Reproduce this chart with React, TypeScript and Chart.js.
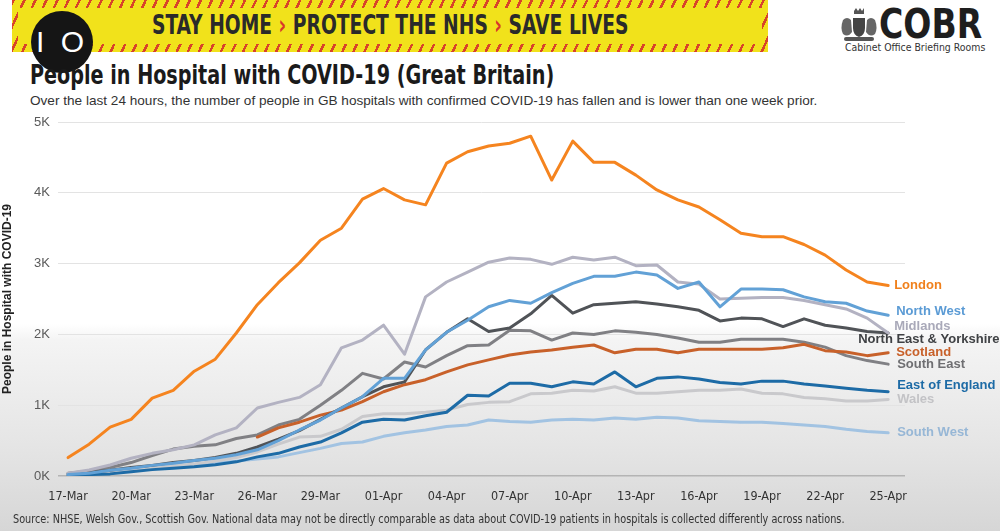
import React, { useEffect, useRef } from "react";
import { Chart, registerables } from "chart.js";

Chart.register(...registerables);

const dates = [
  "17-Mar", "18-Mar", "19-Mar", "20-Mar", "21-Mar", "22-Mar", "23-Mar", "24-Mar", "25-Mar", "26-Mar",
  "27-Mar", "28-Mar", "29-Mar", "30-Mar", "31-Mar", "01-Apr", "02-Apr", "03-Apr", "04-Apr", "05-Apr",
  "06-Apr", "07-Apr", "08-Apr", "09-Apr", "10-Apr", "11-Apr", "12-Apr", "13-Apr", "14-Apr", "15-Apr",
  "16-Apr", "17-Apr", "18-Apr", "19-Apr", "20-Apr", "21-Apr", "22-Apr", "23-Apr", "24-Apr", "25-Apr",
];

const tickDays = [0, 3, 6, 9, 12, 15, 18, 21, 24, 27, 30, 33, 36, 39];

const london = [260, 450, 690, 800, 1100, 1210, 1480, 1650, 2020, 2420, 2730, 3010, 3330, 3500, 3910, 4060, 3900, 3830, 4420, 4580, 4660, 4700, 4800, 4180, 4730, 4430, 4430, 4250, 4040, 3900, 3800, 3620, 3430, 3380, 3380, 3270, 3120, 2910, 2740, 2690];
const northWest = [20, 40, 80, 110, 150, 180, 220, 250, 300, 370, 500, 650, 790, 960, 1120, 1380, 1380, 1780, 2030, 2200, 2390, 2480, 2440, 2590, 2720, 2820, 2820, 2880, 2840, 2650, 2740, 2390, 2640, 2640, 2630, 2530, 2460, 2440, 2330, 2270];
const midlands = [40, 85, 155, 250, 320, 370, 440, 580, 680, 960, 1040, 1110, 1290, 1810, 1920, 2130, 1720, 2530, 2740, 2880, 3020, 3080, 3060, 2990, 3090, 3050, 3090, 2970, 2980, 2740, 2710, 2500, 2510, 2520, 2520, 2480, 2420, 2360, 2230, 2020];
const northEastYorkshire = [30, 50, 80, 120, 150, 190, 220, 260, 320, 410, 520, 640, 800, 960, 1120, 1260, 1330, 1780, 2030, 2220, 2040, 2090, 2290, 2550, 2300, 2420, 2440, 2460, 2430, 2390, 2340, 2190, 2230, 2220, 2110, 2220, 2130, 2090, 2040, 2020];
const scotland = [null, null, null, null, null, null, null, null, null, 550, 680, 760, 860, 930, 1050, 1190, 1290, 1360, 1470, 1570, 1640, 1710, 1750, 1780, 1820, 1850, 1740, 1790, 1790, 1740, 1790, 1790, 1790, 1790, 1810, 1860, 1770, 1750, 1700, 1740];
const southEast = [40, 70, 120, 190, 290, 380, 420, 440, 530, 580, 720, 800, 1000, 1210, 1450, 1370, 1610, 1540, 1700, 1840, 1850, 2060, 2050, 1920, 2020, 2000, 2050, 2030, 2000, 1950, 1890, 1890, 1930, 1930, 1930, 1890, 1820, 1700, 1630, 1580];
const eastOfEngland = [10, 20, 30, 60, 90, 110, 130, 160, 200, 270, 320, 410, 480, 610, 760, 800, 790, 850, 900, 1140, 1130, 1310, 1310, 1260, 1330, 1300, 1470, 1260, 1380, 1400, 1370, 1320, 1300, 1340, 1340, 1300, 1270, 1240, 1210, 1190];
const wales = [20, 40, 60, 80, 110, 140, 170, 210, 260, 340, 450, 550, 560, 660, 840, 880, 880, 900, 930, 1010, 1040, 1050, 1160, 1170, 1210, 1200, 1260, 1170, 1170, 1190, 1210, 1210, 1230, 1170, 1160, 1110, 1090, 1060, 1060, 1080];
const southWest = [30, 50, 70, 90, 110, 140, 160, 180, 210, 240, 270, 330, 390, 460, 480, 560, 610, 650, 700, 720, 790, 770, 760, 790, 800, 790, 820, 800, 830, 820, 780, 770, 760, 760, 740, 720, 700, 660, 630, 610];

const seriesNames = ["London", "North West", "Midlands", "North East & Yorkshire", "Scotland", "South East", "East of England", "Wales", "South West"];
const seriesValues = [london, northWest, midlands, northEastYorkshire, scotland, southEast, eastOfEngland, wales, southWest];
const lineColors = ["#f5841f", "#62a1d6", "#b3b2c2", "#505357", "#c8612a", "#808084", "#1d6ba6", "#c9c9cc", "#a2c3e2"];
const labelColors = ["#f0801c", "#5b9bd5", "#a9a9b9", "#3f4144", "#c8612a", "#6f6f72", "#1d6ba6", "#c3c3c6", "#97b7d6"];
const labelDx = [6, 8, 6, -30, 8, 9, 9, 9, 9];
const labelDy = [0, -4, -7, 6, 0, 0, -6, 0, 0];

const endLabels = {
  id: "endLabels",
  afterDatasetsDraw(chart: any) {
    const ctx = chart.ctx;
    chart.data.datasets.forEach((ds: any, i: number) => {
      const meta = chart.getDatasetMeta(i);
      const pt = meta.data[meta.data.length - 1];
      if (!pt) return;
      ctx.save();
      ctx.font = 'bold 13px "Liberation Sans", Arial, sans-serif';
      ctx.fillStyle = labelColors[i];
      ctx.textBaseline = "middle";
      ctx.textAlign = "left";
      ctx.fillText(seriesNames[i], pt.x + labelDx[i], pt.y + labelDy[i]);
      ctx.restore();
    });
  },
};

const narrow = '"DejaVu Sans Condensed", "Liberation Sans", Arial, sans-serif';
const sans = '"Liberation Sans", Arial, sans-serif';

function Crest() {
  return (
    <svg width="38" height="34" viewBox="0 0 38 34" style={{ position: "absolute", left: 840, top: 8 }}>
      <path d="M14 3 l2 -3 l2 3 l2 -3 l2 3 l2 -3 v6 h-10 z" fill="#555" />
      <path d="M13 10 h12 v10 q0 7 -6 9 q-6 -2 -6 -9 z" fill="#444" />
      <path d="M3 12 q4 -4 8 0 l1 12 q-4 6 -9 2 q-3 -6 0 -14 z" fill="#666" />
      <path d="M35 12 q-4 -4 -8 0 l-1 12 q4 6 9 2 q3 -6 0 -14 z" fill="#666" />
      <rect x="4" y="29" width="30" height="4" rx="2" fill="#555" />
    </svg>
  );
}

export default function App() {
  const canvasRef = useRef<HTMLCanvasElement | null>(null);

  useEffect(() => {
    document.body.style.margin = "0";
    const canvas = canvasRef.current;
    if (!canvas) return;
    const chart = new Chart(canvas, {
      type: "line",
      data: {
        datasets: seriesNames.map((name, i) => ({
          label: name,
          data: seriesValues[i].map((v, j) => ({ x: j, y: v })),
          borderColor: lineColors[i],
          backgroundColor: lineColors[i],
          borderWidth: 3,
          pointRadius: 0,
          tension: 0,
          spanGaps: false,
          borderJoinStyle: "round" as const,
          borderCapStyle: "round" as const,
        })),
      },
      options: {
        animation: false,
        responsive: false,
        maintainAspectRatio: false,
        layout: { padding: { left: 0, right: 95, top: 122, bottom: 0 } },
        plugins: { legend: { display: false }, tooltip: { enabled: false } },
        scales: {
          x: {
            type: "linear",
            min: -0.48,
            max: 39.8,
            grid: { display: false },
            border: { display: false },
            afterBuildTicks: (s: any) => {
              s.ticks = tickDays.map((v) => ({ value: v }));
            },
            afterFit: (s: any) => {
              s.height = 55;
            },
            ticks: {
              callback: (v: any) => dates[v as number] ?? "",
              maxRotation: 0,
              autoSkip: false,
              padding: 5,
              font: { family: narrow, size: 12.5 },
              color: "#333",
            },
          },
          y: {
            min: 0,
            max: 5000,
            afterFit: (s: any) => {
              s.width = 58;
            },
            ticks: {
              stepSize: 1000,
              callback: (v: any) => `${(v as number) / 1000}K`,
              padding: 8,
              font: { family: sans, size: 13 },
              color: "#5a5a5a",
            },
            grid: {
              color: (c: any) => (c.tick && c.tick.value === 0 ? "#b4b4b4" : "#e3e3e3"),
              drawTicks: false,
              lineWidth: (c: any) => (c.tick && c.tick.value === 0 ? 1.5 : 1),
            },
            border: { display: false },
            title: {
              display: true,
              text: "People in Hospital with COVID-19",
              font: { family: sans, size: 12, weight: "bold" },
              color: "#222",
              padding: { top: 0, bottom: 0 },
            },
          },
        },
      },
      plugins: [endLabels],
    });
    return () => chart.destroy();
  }, []);

  return (
    <div
      style={{
        position: "fixed",
        left: 0,
        top: 0,
        width: 1000,
        height: 531,
        overflow: "hidden",
        background: "linear-gradient(to bottom, #ffffff 0%, #ffffff 61%, #f4f4f4 64%, #e4e4e4 85%, #d6d6d6 100%)",
        fontFamily: sans,
      }}
    >
      {/* banner */}
      <div
        style={{
          position: "absolute",
          left: 12,
          top: 0,
          width: 756,
          height: 52,
          background: "repeating-linear-gradient(115deg, #d8432a 0px, #d8432a 2.5px, #f1e21b 2.5px, #f1e21b 10px)",
        }}
      >
        <div style={{ position: "absolute", left: 6, right: 6, top: 8, bottom: 8, background: "#f1e21b" }} />
        <div
          style={{
            position: "absolute",
            left: 140,
            top: 10,
            fontFamily: narrow,
            fontWeight: "bold",
            fontSize: 27,
            lineHeight: "30px",
            color: "#2a2a2a",
            whiteSpace: "nowrap",
            transform: "scaleX(0.77)",
            transformOrigin: "left center",
          }}
        >
          STAY HOME <span style={{ color: "#d9362a" }}>›</span> PROTECT THE NHS <span style={{ color: "#d9362a" }}>›</span> SAVE LIVES
        </div>
      </div>
      {/* number 10 circle */}
      <div
        style={{
          position: "absolute",
          left: 31,
          top: 11,
          width: 62,
          height: 62,
          borderRadius: "50%",
          background: "#151515",
          color: "#fff",
          fontSize: 30,
          lineHeight: "62px",
          textAlign: "center",
          fontFamily: sans,
          letterSpacing: 4,
        }}
      >
        I O
      </div>
      {/* COBR */}
      <Crest />
      <div
        style={{
          position: "absolute",
          left: 879,
          top: 3,
          fontFamily: narrow,
          fontWeight: "bold",
          fontSize: 40,
          lineHeight: "42px",
          color: "#1e1e1e",
          transform: "scaleX(0.92)",
          transformOrigin: "left center",
        }}
      >
        COBR
      </div>
      <div style={{ position: "absolute", left: 845, top: 42, fontFamily: narrow, fontSize: 10, lineHeight: "12px", color: "#333", whiteSpace: "nowrap", transform: "scaleX(1.04)", transformOrigin: "left center" }}>
        Cabinet Office Briefing Rooms
      </div>
      {/* titles */}
      <div
        style={{
          position: "absolute",
          left: 30,
          top: 60,
          fontFamily: narrow,
          fontWeight: "bold",
          fontSize: 26,
          lineHeight: "30px",
          color: "#1a1a1a",
          whiteSpace: "nowrap",
          transform: "scaleX(0.82)",
          transformOrigin: "left center",
        }}
      >
        People in Hospital with COVID-19 (Great Britain)
      </div>
      <div style={{ position: "absolute", left: 30, top: 93, fontFamily: sans, fontSize: 13.6, lineHeight: "16px", color: "#333", whiteSpace: "nowrap" }}>
        Over the last 24 hours, the number of people in GB hospitals with confirmed COVID-19 has fallen and is lower than one week prior.
      </div>
      <canvas ref={canvasRef} width={1000} height={531} style={{ position: "absolute", left: 0, top: 0, width: 1000, height: 531 }} />
      <div
        style={{
          position: "absolute",
          left: 13,
          top: 512,
          fontFamily: narrow,
          fontSize: 12,
          lineHeight: "14px",
          color: "#333",
          whiteSpace: "nowrap",
          transform: "scaleX(0.9)",
          transformOrigin: "left center",
        }}
      >
        Source: NHSE, Welsh Gov., Scottish Gov. National data may not be directly comparable as data about COVID-19 patients in hospitals is collected differently across nations.
      </div>
    </div>
  );
}
